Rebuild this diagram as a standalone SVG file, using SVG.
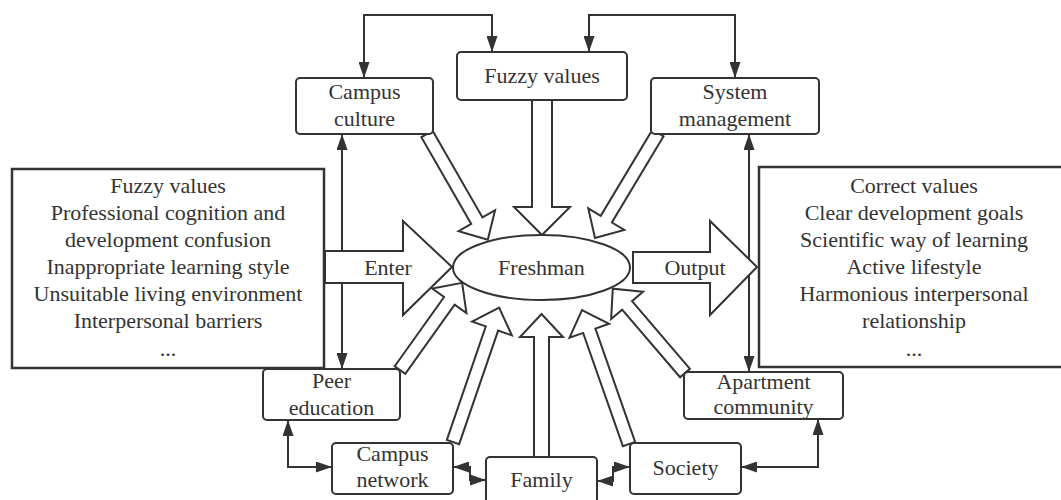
<svg xmlns="http://www.w3.org/2000/svg" width="1061" height="500" viewBox="0 0 1061 500">
<style>
.box{fill:#fff;stroke:#333;stroke-width:2}
.big{fill:#fff;stroke:#333;stroke-width:2.5}
text{font-family:Liberation Serif,Times New Roman,Times,Noto Serif,DejaVu Serif,serif;font-size:22px;fill:#333;text-anchor:middle}
.ln{fill:none;stroke:#333;stroke-width:2;marker-start:url(#ah);marker-end:url(#ah)}
.ha{fill:#fff;stroke:#333;stroke-width:2;stroke-linejoin:miter}
</style>
<defs>
<marker id="ah" markerUnits="userSpaceOnUse" markerWidth="16" markerHeight="11" refX="16" refY="5.5" orient="auto-start-reverse">
<path d="M0,0 L16,5.5 L0,11 z" fill="#333"/>
</marker>
</defs>
<rect width="1061" height="500" fill="#fff"/>
<g id="connectors">
<path class="ln" d="M364,78 V15 H492 V52"/>
<path class="ln" d="M589,52 V15 H735 V78"/>
<path class="ln" d="M342,134 V369"/>
<path class="ln" d="M749,134 V372"/>
<path class="ln" d="M288,420 V467 H332"/>
<path class="ln" d="M453,467 H470 V480 H486"/>
<path class="ln" d="M597,481 H613 V467 H630"/>
<path class="ln" d="M741,467 H818 V419"/>
<polygon class="ha" points="532,100 552,100 552,207 570,207 542,235 514,207 532,207"/>
<polygon class="ha" points="534,457 534,337 520,337 541.5,314 563,337 549,337 549,457"/>
<polygon class="ha" points="325,251 403,251 403,221 452,267 403,315 403,283 325,283"/>
<polygon class="ha" points="633,252 710,252 710,221 757,267 710,315 710,283 633,283"/>
<polygon class="ha" transform="translate(427,134) rotate(60.1)" points="0,-6.5 100,-6.5 100,-21 122,0 100,21 100,6.5 0,6.5"/>
<polygon class="ha" transform="translate(658,133) rotate(120.96)" points="0,-6.5 100.5,-6.5 100.5,-21 122.5,0 100.5,21 100.5,6.5 0,6.5"/>
<polygon class="ha" transform="translate(400,370) rotate(-54.5)" points="0,-6.5 85,-6.5 85,-21 107,0 85,21 85,6.5 0,6.5"/>
<polygon class="ha" transform="translate(453,442) rotate(-71.05)" points="0,-6.5 120,-6.5 120,-21 142,0 120,21 120,6.5 0,6.5"/>
<polygon class="ha" transform="translate(629,444) rotate(-109.33)" points="0,-6.5 120,-6.5 120,-21 142,0 120,21 120,6.5 0,6.5"/>
<polygon class="ha" transform="translate(685,373) rotate(-130.6)" points="0,-6.5 89,-6.5 89,-21 111,0 89,21 89,6.5 0,6.5"/>
<text x="388" y="275" font-family="Liberation Serif">Enter</text>
<text x="695" y="275" font-family="Liberation Serif">Output</text>
</g>
<g id="freshman">
<ellipse cx="541.5" cy="267.5" rx="88.5" ry="32.5" fill="#fff" stroke="#333" stroke-width="2"/>
<text x="541.5" y="275">Freshman</text>
</g>
<g id="campus-culture">
<rect class="box" x="296" y="78" width="137" height="56" rx="4"/>
<text x="364.5" y="99">Campus</text>
<text x="364.5" y="126">culture</text>
</g>
<g id="fuzzy-values-top">
<rect class="box" x="457" y="52" width="170" height="48" rx="4"/>
<text x="542" y="83">Fuzzy values</text>
</g>
<g id="system-management">
<rect class="box" x="651" y="78" width="168" height="56" rx="4"/>
<text x="735" y="99">System</text>
<text x="735" y="126">management</text>
</g>
<g id="input-box">
<rect class="big" x="12" y="169" width="312" height="199"/>
<text x="168" y="193">Fuzzy values</text>
<text x="168" y="220">Professional cognition and</text>
<text x="168" y="247">development confusion</text>
<text x="168" y="274">Inappropriate learning style</text>
<text x="168" y="301">Unsuitable living environment</text>
<text x="168" y="328">Interpersonal barriers</text>
<text x="168" y="356">...</text>
</g>
<g id="output-box">
<rect class="big" x="759" y="167" width="311" height="200"/>
<text x="914" y="193">Correct values</text>
<text x="914" y="220">Clear development goals</text>
<text x="914" y="247">Scientific way of learning</text>
<text x="914" y="274">Active lifestyle</text>
<text x="914" y="301">Harmonious interpersonal</text>
<text x="914" y="328">relationship</text>
<text x="914" y="356">...</text>
</g>
<g id="peer-education">
<rect class="box" x="263" y="369" width="137" height="51" rx="4"/>
<text x="331.5" y="388">Peer</text>
<text x="331.5" y="415">education</text>
</g>
<g id="apartment-community">
<rect class="box" x="684" y="372" width="159" height="47" rx="4"/>
<text x="763.5" y="389">Apartment</text>
<text x="763.5" y="414">community</text>
</g>
<g id="campus-network">
<rect class="box" x="332" y="443" width="121" height="51" rx="4"/>
<text x="392.5" y="461">Campus</text>
<text x="392.5" y="487">network</text>
</g>
<g id="family">
<rect class="box" x="486" y="457" width="111" height="50" rx="4"/>
<text x="541.5" y="487">Family</text>
</g>
<g id="society">
<rect class="box" x="630" y="443" width="111" height="51" rx="4"/>
<text x="685.5" y="475">Society</text>
</g>
</svg>
